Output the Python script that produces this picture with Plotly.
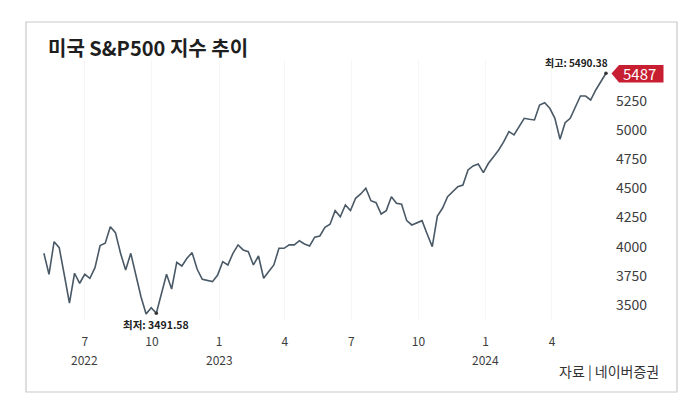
import plotly.graph_objects as go
import pandas as pd

# ---- data (weekly closes) ----
start_date = "2022-05-06"
index_values = [
    3943, 3763, 4043, 3991, 3757, 3515, 3772, 3686, 3763, 3729,
    3820, 4009, 4029, 4171, 4120, 3943, 3800, 3943, 3757, 3571,
    3423, 3477, 3429, 3594, 3763, 3637, 3866, 3834, 3900, 3949,
    3806, 3720, 3708, 3700, 3757, 3871, 3843, 3943, 4015, 3972,
    3957, 3843, 3920, 3729, 3786, 3843, 3986, 3986, 4015, 4015,
    4051, 4023, 4006, 4081, 4092, 4166, 4192, 4309, 4257, 4358,
    4309, 4415, 4452, 4501, 4394, 4377, 4280, 4309, 4429, 4372,
    4364, 4223, 4186, 4206, 4223, 4109, 4000, 4263, 4329, 4429,
    4472, 4515, 4529, 4658, 4692, 4709, 4635, 4715, 4772, 4829,
    4900, 4986, 4958, 5029, 5101, 5093, 5087, 5215, 5235, 5187,
    5101, 4921, 5063, 5101, 5201, 5292, 5292, 5258, 5344, 5415,
    5487,
]
low_index = 22
low_label = "최저: 3491.58"
high_label = "최고: 5490.38"
last_tag = "5487"

x_tick_vals = ["2022-07-01", "2022-10-01", "2023-01-01", "2023-04-01",
               "2023-07-01", "2023-10-01", "2024-01-01", "2024-04-01"]
x_tick_text = ["7", "10", "1", "4", "7", "10", "1", "4"]
year_vals = ["2022-07-01", "2023-01-01", "2024-01-01"]
year_text = ["2022", "2023", "2024"]
y_tick_vals = [3500, 3750, 4000, 4250, 4500, 4750, 5000, 5250]

title_text = "미국 S&P500 지수 추이"
source_text = "자료 | 네이버증권"

dates = pd.date_range(start_date, periods=len(index_values), freq="7D")

# ---- layout geometry (pixels) ----
W, H = 700, 417
L, R, T, B = 40, 610, 60, 320


def px(xp):
    return (xp - L) / (R - L)


def py(yp):
    return (B - yp) / (B - T)


FONT = "Noto Sans CJK KR"
TICK_COLOR = "#3d3d3d"

fig = go.Figure()
fig.add_trace(go.Scatter(
    x=dates, y=index_values, mode="lines",
    line=dict(color="#4a5966", width=1.6),
    hoverinfo="skip", showlegend=False,
))
fig.add_trace(go.Scatter(
    x=[dates[low_index], dates[-1]],
    y=[index_values[low_index], index_values[-1]],
    mode="markers", marker=dict(color="#333", size=3.5),
    hoverinfo="skip", showlegend=False,
))

fig.update_layout(
    width=W, height=H, autosize=False,
    margin=dict(l=L, r=W - R, t=T, b=H - B),
    paper_bgcolor="white", plot_bgcolor="white",
    font=dict(family=FONT, color="#333"),
    xaxis=dict(
        range=["2022-04-30 16:00", "2024-06-19 12:00"],
        tickmode="array", tickvals=x_tick_vals, ticktext=x_tick_text,
        showgrid=True, gridcolor="#f6f6f6", gridwidth=1,
        zeroline=False, showline=False, ticks="",
        tickfont=dict(size=12, color=TICK_COLOR, family=FONT),
        ticklabelstandoff=13,
    ),
    yaxis=dict(
        range=[3371, 5601], side="right",
        tickmode="array", tickvals=y_tick_vals,
        showgrid=False, zeroline=False, showline=False, ticks="",
        tickfont=dict(size=14, color=TICK_COLOR, family=FONT),
        ticklabelstandoff=5,
    ),
)

shapes = [
    dict(type="rect", xref="paper", yref="paper",
         x0=px(26), x1=px(677), y0=py(392), y1=py(22),
         line=dict(color="#c9c9c9", width=1.2), fillcolor="rgba(0,0,0,0)",
         layer="below"),
    dict(type="path", xref="paper", yref="paper",
         path=(f"M {px(611.5)} {py(73.5)} L {px(619)} {py(65)} "
               f"L {px(663.5)} {py(65)} L {px(663.5)} {py(82.5)} "
               f"L {px(619)} {py(82.5)} Z"),
         fillcolor="#c81e32", line=dict(width=0)),
]
fig.update_layout(shapes=shapes)

annotations = [
    dict(text=f"<b>{title_text}</b>", xref="paper", yref="paper",
         x=px(46), y=py(48), xanchor="left", yanchor="middle",
         showarrow=False, font=dict(size=20, color="#1e1e1e", family=FONT)),
    dict(text=source_text, xref="paper", yref="paper",
         x=px(661), y=py(371), xanchor="right", yanchor="middle",
         showarrow=False, font=dict(size=14, color="#333", family=FONT)),
    dict(text=last_tag, xref="paper", yref="paper",
         x=px(639), y=py(73.5), xanchor="center", yanchor="middle",
         showarrow=False, font=dict(size=15, color="white", family=FONT)),
    dict(text=f"<b>{high_label}</b>", x=dates[-1], y=index_values[-1],
         xref="x", yref="y", xanchor="right", yanchor="bottom",
         xshift=4, yshift=1, showarrow=False,
         font=dict(size=10, color="#222", family=FONT)),
    dict(text=f"<b>{low_label}</b>", x=dates[low_index], y=index_values[low_index],
         xref="x", yref="y", xanchor="center", yanchor="top",
         yshift=-2, showarrow=False,
         font=dict(size=10.5, color="#222", family=FONT)),
]
for yv, yt in zip(year_vals, year_text):
    annotations.append(dict(
        text=yt, x=yv, xref="x", y=py(359), yref="paper",
        xanchor="center", yanchor="middle", showarrow=False,
        height=13, borderpad=0,
        font=dict(size=12, color=TICK_COLOR, family=FONT)))
fig.update_layout(annotations=annotations)

fig.write_html(
    "out.html",
    config={"displayModeBar": False},
    post_script="document.body.style.margin='0';document.body.style.padding='0';",
)
